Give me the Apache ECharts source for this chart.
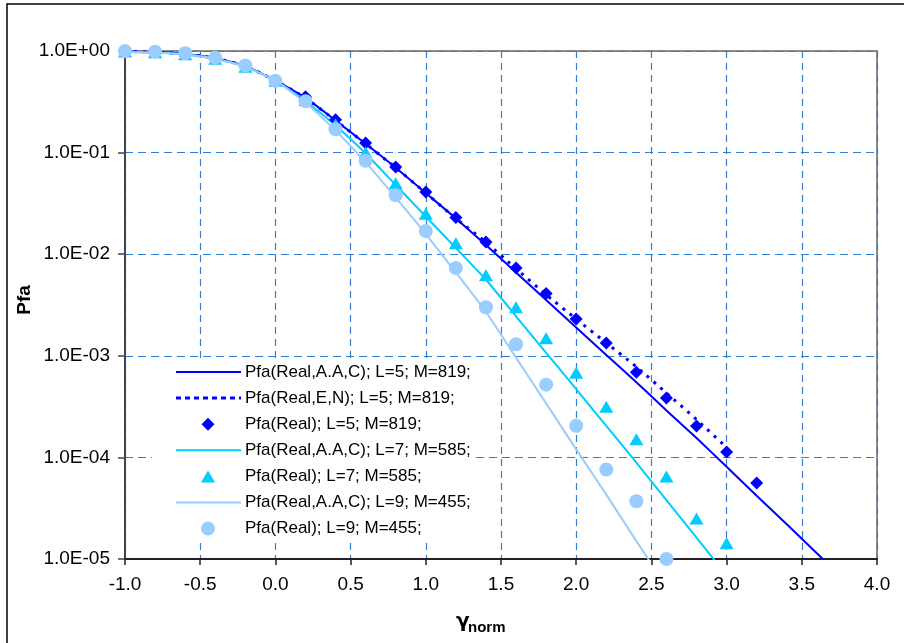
<!DOCTYPE html>
<html>
<head>
<meta charset="utf-8">
<script src="https://cdn.jsdelivr.net/npm/echarts@6/dist/echarts.min.js"></script>
<style>
  html, body { margin: 0; padding: 0; background: #fff; }
  #chart { width: 904px; height: 643px; }
</style>
</head>
<body>
<div id="chart"></div>
<script>
// x positions (gamma_norm)
const xCurveL5 = [-1.0, -0.8, -0.6, -0.4, -0.2, 0.0, 0.2, 0.4, 0.6, 0.8, 1.0, 1.2, 1.4, 1.6, 1.8, 2.0, 2.2, 2.4, 2.6, 2.8, 3.0, 3.2, 3.4, 3.6, 3.8];
const xDotL5 = [-1.0, -0.8, -0.6, -0.4, -0.2, 0.0, 0.2, 0.4, 0.6, 0.8, 1.0, 1.2, 1.4, 1.6, 1.8, 2.0, 2.2, 2.4, 2.6, 2.8, 3.0];
const xPtsL5 = [-1.0, -0.8, -0.6, -0.4, -0.2, 0.0, 0.2, 0.4, 0.6, 0.8, 1.0, 1.2, 1.4, 1.6, 1.8, 2.0, 2.2, 2.4, 2.6, 2.8, 3.0, 3.2];
const xL7 = [-1.0, -0.8, -0.6, -0.4, -0.2, 0.0, 0.2, 0.4, 0.6, 0.8, 1.0, 1.2, 1.4, 1.6, 1.8, 2.0, 2.2, 2.4, 2.6, 2.8, 3.0];
const xL9 = [-1.0, -0.8, -0.6, -0.4, -0.2, 0.0, 0.2, 0.4, 0.6, 0.8, 1.0, 1.2, 1.4, 1.6, 1.8, 2.0, 2.2, 2.4, 2.6];

// Pfa values
const aacL5 = [0.99, 0.975, 0.935, 0.85, 0.71, 0.51, 0.345, 0.207, 0.122, 0.071, 0.040, 0.0225, 0.0123, 0.0066, 0.00355, 0.0019, 0.00102, 0.00055, 0.00029, 0.000155, 8.1e-5, 4.2e-5, 2.2e-5, 1.14e-5, 5.9e-6];
const enL5 = [0.99, 0.975, 0.935, 0.85, 0.71, 0.51, 0.345, 0.207, 0.122, 0.071, 0.040, 0.0225, 0.0131, 0.0072, 0.0040, 0.0023, 0.00134, 0.00078, 0.00043, 0.000236, 0.000125];
const realL5 = [0.99, 0.975, 0.94, 0.85, 0.71, 0.51, 0.355, 0.21, 0.124, 0.072, 0.041, 0.023, 0.0132, 0.0073, 0.0041, 0.0023, 0.00134, 0.00069, 0.000385, 0.000204, 0.000113, 5.6e-5];
const aacL7 = [0.985, 0.965, 0.925, 0.84, 0.70, 0.51, 0.32, 0.185, 0.098, 0.048, 0.0235, 0.0115, 0.0056, 0.00245, 0.00107, 0.00047, 0.000204, 8.9e-5, 3.8e-5, 1.62e-5, 6.9e-6];
const realL7 = [0.99, 0.97, 0.93, 0.84, 0.70, 0.51, 0.33, 0.19, 0.10, 0.050, 0.025, 0.0128, 0.0062, 0.0030, 0.00149, 0.00068, 0.000316, 0.000151, 6.5e-5, 2.5e-5, 1.43e-5];
const aacL9 = [0.985, 0.965, 0.925, 0.84, 0.70, 0.51, 0.31, 0.165, 0.08, 0.036, 0.0158, 0.0066, 0.0027, 0.00096, 0.00034, 0.00012, 4.3e-5, 1.5e-5, 5.4e-6];
const realL9 = [1.0, 0.985, 0.95, 0.86, 0.72, 0.51, 0.32, 0.17, 0.083, 0.038, 0.0169, 0.0073, 0.0030, 0.0013, 0.00052, 0.000205, 7.6e-5, 3.7e-5, 1.0e-5];

const names = [
  'Pfa(Real,A.A,C); L=5; M=819;',
  'Pfa(Real,E,N); L=5; M=819;',
  'Pfa(Real); L=5; M=819;',
  'Pfa(Real,A.A,C); L=7; M=585;',
  'Pfa(Real); L=7; M=585;',
  'Pfa(Real,A.A,C); L=9; M=455;',
  'Pfa(Real); L=9; M=455;'
];

const pairs = (xs, ys) => xs.map((x, i) => [x, ys[i]]);

function expLabel(v) {
  const e = Math.round(Math.log10(v));
  return '1.0E' + (e < 0 ? '-' : '+') + String(Math.abs(e)).padStart(2, '0');
}

const font = 'Liberation Sans, Arial, sans-serif';
const cDark = '#0000ff';
const cCyan = '#00ccff';
const cLight = '#99ccff';

// legend drawn by hand (Excel style: long line sample or a lone marker)
const legendKinds = [
  { kind: 'line', color: cDark },
  { kind: 'dash', color: cDark },
  { kind: 'diamond', color: cDark },
  { kind: 'line', color: cCyan },
  { kind: 'triangle', color: cCyan },
  { kind: 'line', color: cLight },
  { kind: 'circle', color: cLight }
];
const legX = 176, legY = 372, legStep = 26.1;
const legendGraphics = [
  { type: 'rect', z: 50, shape: { x: 152, y: 358, width: 323, height: 184 }, style: { fill: '#fff' } }
];
legendKinds.forEach((k, i) => {
  const cy = legY + i * legStep;
  const cx = legX + 32;
  if (k.kind === 'line' || k.kind === 'dash') {
    legendGraphics.push({ type: 'line', z: 51,
      shape: { x1: legX, y1: cy, x2: legX + 65, y2: cy },
      style: { stroke: k.color, lineWidth: k.kind === 'dash' ? 3 : 2, lineDash: k.kind === 'dash' ? [5, 4] : null } });
  } else if (k.kind === 'diamond') {
    legendGraphics.push({ type: 'polygon', z: 51,
      shape: { points: [[cx, cy - 6.5], [cx + 6.5, cy], [cx, cy + 6.5], [cx - 6.5, cy]] }, style: { fill: k.color } });
  } else if (k.kind === 'triangle') {
    legendGraphics.push({ type: 'polygon', z: 51,
      shape: { points: [[cx, cy - 6], [cx + 7, cy + 6], [cx - 7, cy + 6]] }, style: { fill: k.color } });
  } else {
    legendGraphics.push({ type: 'circle', z: 51, shape: { cx: cx, cy: cy, r: 7 }, style: { fill: k.color } });
  }
  legendGraphics.push({ type: 'text', z: 51, x: legX + 69, y: cy,
    style: { text: names[i], fontSize: 17, fill: '#000', fontFamily: font, verticalAlign: 'middle', align: 'left' } });
});

const chart = echarts.init(document.getElementById('chart'));
chart.setOption({
  animation: false,
  backgroundColor: '#fff',
  textStyle: { fontFamily: font },
  grid: {
    left: 125, right: 27, top: 51, bottom: 84,
    show: true, borderColor: '#8c8c8c', borderWidth: 2, backgroundColor: 'transparent'
  },
  xAxis: {
    type: 'value', min: -1, max: 4, interval: 0.5,
    axisLine: { onZero: false, lineStyle: { color: '#222', width: 2 } },
    axisTick: { show: true, inside: false, length: 6, lineStyle: { color: '#222', width: 1.5 } },
    axisLabel: { fontSize: 19, color: '#000', margin: 16, formatter: v => v.toFixed(1) },
    splitLine: { show: true, lineStyle: { color: '#2f7fd6', type: [7, 5], width: 1.2 } }
  },
  yAxis: {
    type: 'log', logBase: 10, min: 1e-5, max: 1,
    axisLine: { show: true, onZero: false, lineStyle: { color: '#444', width: 2 } },
    axisTick: { show: true, inside: false, length: 7, lineStyle: { color: '#444', width: 1.5 } },
    axisLabel: { fontSize: 19, color: '#000', margin: 15, formatter: expLabel },
    splitLine: { show: true, lineStyle: { color: '#2f7fd6', type: [8, 5], width: 1.2 } },
    minorTick: { show: false }
  },
  graphic: [
    { type: 'rect', silent: true, z: -10, shape: { x: 7, y: 4, width: 920, height: 660 },
      style: { fill: 'none', stroke: '#000', lineWidth: 1.5 } },
    { type: 'text', x: 25, y: 300, rotation: Math.PI / 2,
      style: { text: 'Pfa', fontSize: 19, fontWeight: 'bold', fill: '#000', fontFamily: font, align: 'center', verticalAlign: 'middle' } },
    { type: 'text', left: 456, top: 612, style: { text: 'γ', fontSize: 20, fontWeight: 'bold', fill: '#000', fontFamily: 'DejaVu Sans, sans-serif' } },
    { type: 'text', left: 468, top: 620, style: { text: 'norm', fontSize: 15, fontWeight: 'bold', fill: '#000', fontFamily: font } }
  ].concat(legendGraphics),
  series: [
    { name: names[0], type: 'line', data: pairs(xCurveL5, aacL5), symbol: 'none', smooth: 0.2,
      lineStyle: { color: cDark, width: 2 }, itemStyle: { color: cDark }, z: 3 },
    { name: names[1], type: 'line', data: pairs(xDotL5, enL5), symbol: 'none', smooth: 0.2,
      lineStyle: { color: cDark, width: 3, type: [3, 6] }, itemStyle: { color: cDark }, z: 3 },
    { name: names[2], type: 'scatter', data: pairs(xPtsL5, realL5), symbol: 'diamond', symbolSize: 13,
      itemStyle: { color: cDark, opacity: 1 }, clip: false, z: 4 },
    { name: names[3], type: 'line', data: pairs(xL7, aacL7), symbol: 'none', smooth: 0.2,
      lineStyle: { color: cCyan, width: 2 }, itemStyle: { color: cCyan }, z: 3 },
    { name: names[4], type: 'scatter', data: pairs(xL7, realL7), symbol: 'triangle', symbolSize: [14, 12],
      itemStyle: { color: cCyan, opacity: 1 }, clip: false, z: 4 },
    { name: names[5], type: 'line', data: pairs(xL9, aacL9), symbol: 'none', smooth: 0.2,
      lineStyle: { color: cLight, width: 2 }, itemStyle: { color: cLight }, z: 3 },
    { name: names[6], type: 'scatter', data: pairs(xL9, realL9), symbol: 'circle', symbolSize: 14,
      itemStyle: { color: cLight, opacity: 1 }, clip: false, z: 4 }
  ]
});
</script>
</body>
</html>
